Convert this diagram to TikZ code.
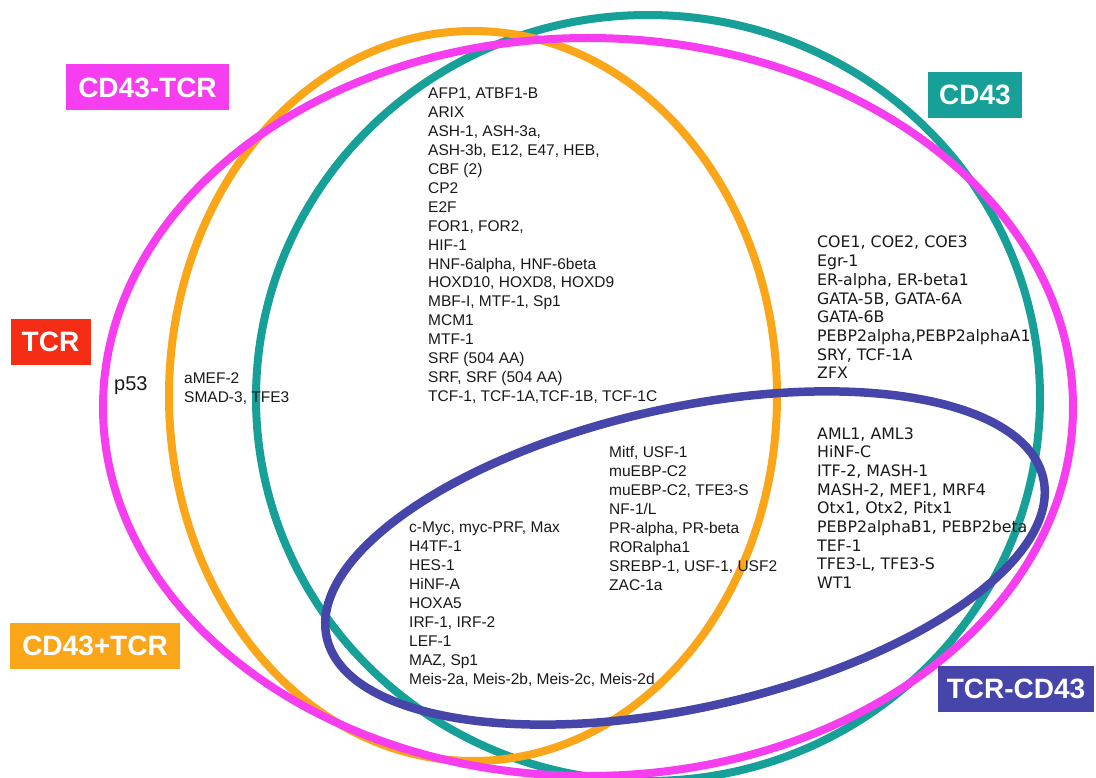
\documentclass[tikz,border=0pt]{standalone}
\usepackage{fontspec}
\setmainfont{Liberation Sans}
\newfontfamily\vfont{DejaVu Sans}
\definecolor{cpink}{RGB}{246,62,240}
\definecolor{corange}{RGB}{251,165,25}
\definecolor{cteal}{RGB}{22,160,152}
\definecolor{cblue}{RGB}{70,70,170}
\definecolor{cred}{RGB}{245,45,20}
\definecolor{ctext}{RGB}{25,25,25}
\tikzset{
  ring/.style={line width=8pt},
  tag/.style={font=\bfseries\fontsize{28}{28}\selectfont, text=white, inner sep=0pt,
              minimum height=46pt},
  lst/.style={anchor=base west, inner sep=0pt, text=ctext,
              font=\fontsize{15.5}{18.9}\selectfont},
  vlst/.style={anchor=base west, inner sep=0pt, text=ctext,
              font=\vfont\fontsize{15.8}{18.7}\selectfont},
}
\begin{document}
\begin{tikzpicture}[x=1pt,y=-1pt]
\useasboundingbox[fill=white] (0,0) rectangle (1096,778);

% set outlines
\draw[ring, cteal] (648,398) ellipse [x radius=392, y radius=383];
\draw[ring, corange] (473,396) ellipse [x radius=304, y radius=365];
\draw[ring, cpink] (588,407) ellipse [x radius=485, y radius=369];
\draw[ring, cblue, line width=8.5pt, rotate around={12.5:(685,558)}]
  (685,558) ellipse [x radius=367, y radius=150];

% gene lists
\node[lst] (core) at (428,99) {\begin{tabular}[t]{@{}l@{}}
AFP1, ATBF1-B\\
ARIX\\
ASH-1, ASH-3a,\\
ASH-3b, E12, E47, HEB,\\
CBF (2)\\
CP2\\
E2F\\
FOR1, FOR2,\\
HIF-1\\
HNF-6alpha, HNF-6beta\\
HOXD10, HOXD8, HOXD9\\
MBF-I, MTF-1, Sp1\\
MCM1\\
MTF-1\\
SRF (504 AA)\\
SRF, SRF (504 AA)\\
TCF-1, TCF-1A,TCF-1B, TCF-1C
\end{tabular}};

\node[lst, font=\fontsize{15.5}{20}\selectfont] (amef) at (184,383) {\begin{tabular}[t]{@{}l@{}}
aMEF-2\\
SMAD-3, TFE3
\end{tabular}};

\node[lst, font=\fontsize{20}{24}\selectfont] (p53) at (114,390) {p53};

\node[lst, font=\fontsize{15.5}{19}\selectfont] (myc) at (409,532) {\begin{tabular}[t]{@{}l@{}}
c-Myc, myc-PRF, Max\\
H4TF-1\\
HES-1\\
HiNF-A\\
HOXA5\\
IRF-1, IRF-2\\
LEF-1\\
MAZ, Sp1\\
Meis-2a, Meis-2b, Meis-2c, Meis-2d
\end{tabular}};

\node[lst, font=\fontsize{15.5}{19}\selectfont] (mitf) at (609,457) {\begin{tabular}[t]{@{}l@{}}
Mitf, USF-1\\
muEBP-C2\\
muEBP-C2, TFE3-S\\
NF-1/L\\
PR-alpha, PR-beta\\
RORalpha1\\
SREBP-1, USF-1, USF2\\
ZAC-1a
\end{tabular}};

\node[vlst] (coe) at (817,248) {\begin{tabular}[t]{@{}l@{}}
COE1, COE2, COE3\\
Egr-1\\
ER-alpha, ER-beta1\\
GATA-5B, GATA-6A\\
GATA-6B\\
PEBP2alpha,PEBP2alphaA1\\
SRY, TCF-1A\\
ZFX
\end{tabular}};

\node[vlst] (aml) at (817,439) {\begin{tabular}[t]{@{}l@{}}
AML1, AML3\\
HiNF-C\\
ITF-2, MASH-1\\
MASH-2, MEF1, MRF4\\
Otx1, Otx2, Pitx1\\
PEBP2alphaB1, PEBP2beta\\
TEF-1\\
TFE3-L, TFE3-S\\
WT1
\end{tabular}};

% set tags
\node[tag, fill=cpink, minimum width=163pt] (tagA) at (147.5,87.5) {CD43-TCR};
\node[tag, fill=cteal, minimum width=94pt] (tagB) at (975,95) {CD43};
\node[tag, fill=cred, minimum width=80pt] (tagC) at (50.5,342) {TCR};
\node[tag, fill=corange, minimum width=170pt] (tagD) at (95,646) {CD43+TCR};
\node[tag, fill=cblue, minimum width=156pt] (tagE) at (1016,688.5) {TCR-CD43};
\end{tikzpicture}
\end{document}
